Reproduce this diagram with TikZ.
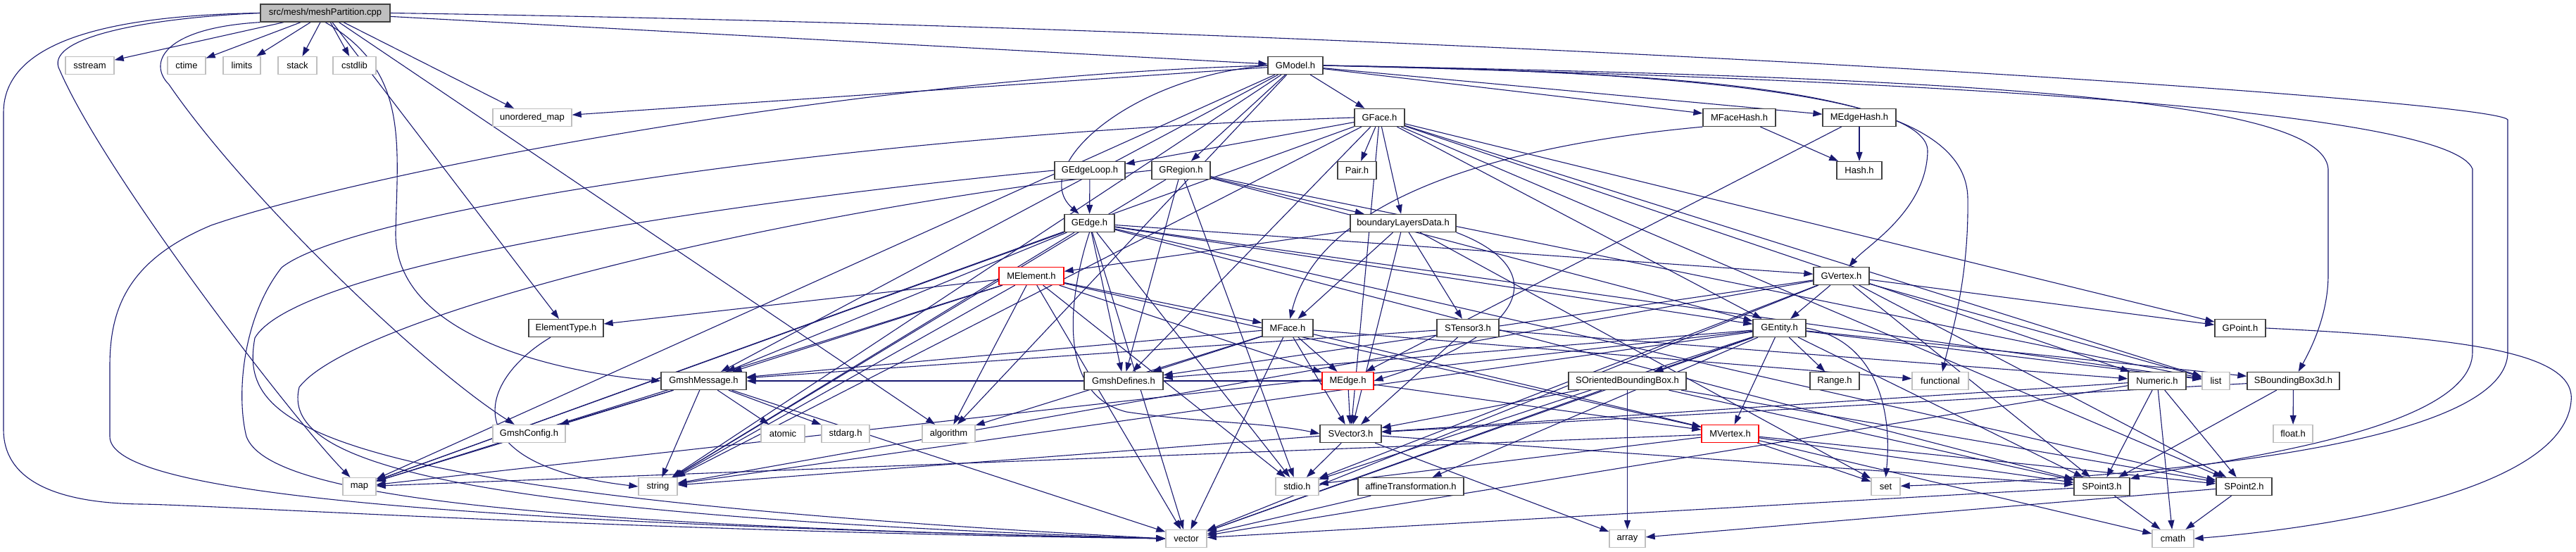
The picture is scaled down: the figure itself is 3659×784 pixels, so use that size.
\documentclass[tikz,border=0pt]{standalone}
\usepackage{fontspec}
\setmainfont{Liberation Sans}
\usetikzlibrary{arrows.meta}
\definecolor{dxnavy}{HTML}{191970}
\definecolor{dxgrey}{HTML}{BFBFBF}
\definecolor{dxborder}{HTML}{404040}
\pgfdeclarelayer{bg}
\pgfsetlayers{bg,main}
\begin{document}
\begin{tikzpicture}[x=1pt,y=-1pt,
  nd/.style={draw=dxborder, fill=white, line width=1.3pt, minimum height=25pt, inner sep=0pt, font=\fontsize{13}{15}\selectfont},
  sys/.style={nd, draw=dxgrey},
  trunc/.style={nd, draw=red},
  edg/.style={draw=dxnavy, line width=1.1pt, -{Triangle[length=13pt,width=9pt]}}]
\useasboundingbox (0,0) rectangle (3659,784);
% row 0
\node[nd, fill=dxgrey, minimum width=184pt] (src) at (462,18.5) {src/mesh/meshPartition.cpp};
% row 1
\node[sys, minimum width=69pt] (sstream) at (127.5,93) {sstream};
\node[sys, minimum width=54pt] (ctime) at (265,93) {ctime};
\node[sys, minimum width=53pt] (limits) at (343.5,93) {limits};
\node[sys, minimum width=55pt] (stack) at (422.5,93) {stack};
\node[sys, minimum width=61pt] (cstdlib) at (503.5,93) {cstdlib};
\node[nd, minimum width=78pt] (GModel) at (1840,93) {GModel.h};
% row 2
\node[sys, minimum width=112pt] (umap) at (756,167) {unordered\_map};
\node[nd, minimum width=71pt] (GFace) at (1959.5,167) {GFace.h};
\node[nd, minimum width=103pt] (MFaceHash) at (2470.5,167) {MFaceHash.h};
\node[nd, minimum width=104pt] (MEdgeHash) at (2641,167) {MEdgeHash.h};
% row 3
\node[nd, minimum width=100pt] (GEdgeLoop) at (1548,242) {GEdgeLoop.h};
\node[nd, minimum width=83pt] (GRegion) at (1677.5,242) {GRegion.h};
\node[nd, minimum width=55pt] (Pair) at (1927.5,242) {Pair.h};
\node[nd, minimum width=64pt] (Hash) at (2641,242) {Hash.h};
% row 4
\node[nd, minimum width=71pt] (GEdge) at (1547.5,317) {GEdge.h};
\node[nd, minimum width=150pt] (bLD) at (1993,317) {boundaryLayersData.h};
% row 5
\node[trunc, minimum width=92pt] (MElement) at (1465,392) {MElement.h};
\node[nd, minimum width=79pt] (GVertex) at (2615.5,392) {GVertex.h};
% row 6
\node[nd, minimum width=106pt] (ElementType) at (804,466) {ElementType.h};
\node[nd, minimum width=72pt] (MFace) at (1829,466) {MFace.h};
\node[nd, minimum width=88pt] (STensor3) at (2085,466) {STensor3.h};
\node[nd, minimum width=75pt] (GEntity) at (2527.5,466) {GEntity.h};
\node[nd, minimum width=72pt] (GPoint) at (3182,466) {GPoint.h};
% row 7
\node[nd, minimum width=121pt] (GmshMessage) at (999.5,541) {GmshMessage.h};
\node[nd, minimum width=112pt] (GmshDefines) at (1596,541) {GmshDefines.h};
\node[trunc, minimum width=73pt] (MEdge) at (1914.5,541) {MEdge.h};
\node[nd, minimum width=167pt] (SOBB) at (2311.5,541) {SOrientedBoundingBox.h};
\node[nd, minimum width=70pt] (Range) at (2606,541) {Range.h};
\node[sys, minimum width=80pt] (functional) at (2756,541) {functional};
\node[nd, minimum width=82pt] (Numeric) at (3064,541) {Numeric.h};
\node[sys, minimum width=39pt] (list) at (3147.5,541) {list};
\node[nd, minimum width=131pt] (SBB) at (3257.5,541) {SBoundingBox3d.h};
% row 8
\node[sys, minimum width=103pt] (GmshConfig) at (751.5,616) {GmshConfig.h};
\node[sys, minimum width=62pt] (atomic) at (1112,616) {atomic};
\node[sys, minimum width=68pt] (stdarg) at (1201,616) {stdarg.h};
\node[sys, minimum width=75pt] (algorithm) at (1347.5,616) {algorithm};
\node[nd, minimum width=87pt] (SVector3) at (1918.5,616) {SVector3.h};
\node[trunc, minimum width=81pt] (MVertex) at (2457.5,616) {MVertex.h};
\node[sys, minimum width=56pt] (float) at (3257,616) {float.h};
% row 9
\node[sys, minimum width=47pt] (map) at (510.5,691) {map};
\node[sys, minimum width=55pt] (string) at (934.5,691) {string};
\node[sys, minimum width=61pt] (stdio) at (1842.5,691) {stdio.h};
\node[nd, minimum width=150pt] (affine) at (2004,691) {affineTransformation.h};
\node[sys, minimum width=41pt] (set) at (2678.5,691) {set};
\node[nd, minimum width=79pt] (SPoint3) at (2985.5,691) {SPoint3.h};
\node[nd, minimum width=79pt] (SPoint2) at (3187.5,691) {SPoint2.h};
% row 10
\node[sys, minimum width=58pt] (vector) at (1685,765) {vector};
\node[sys, minimum width=51pt] (array) at (2311.5,765) {array};
\node[sys, minimum width=59pt] (cmath) at (3086.5,765) {cmath};

\begin{pgfonlayer}{bg}
\foreach \a/\b in {src/sstream, src/ctime, src/limits, src/stack, src/cstdlib, src/umap, src/GModel, src/ElementType, src/algorithm,
GModel/umap, GModel/GFace, GModel/GRegion, GModel/MFaceHash, GModel/MEdgeHash, GModel/algorithm, GModel/map, GModel/string, GModel/GmshMessage,
GFace/Pair, GFace/bLD, GFace/GEdgeLoop, GFace/GEntity, GFace/GPoint, GFace/Numeric, GFace/list, GFace/SPoint2, GFace/SVector3, GFace/GmshDefines, GFace/map, GFace/string,
GEdgeLoop/GEdge,
GRegion/GmshDefines, GRegion/bLD, GRegion/GEntity, GRegion/list, GRegion/string, GRegion/stdio,
GEdge/GVertex, GEdge/GEntity, GEdge/GmshDefines, GEdge/SPoint2, GEdge/SPoint3, GEdge/list, GEdge/stdio, GEdge/string, GEdge/vector, GEdge/map, GEdge/GmshMessage,
bLD/MFace, bLD/STensor3, bLD/SVector3, bLD/MElement, bLD/set,
MElement/ElementType, MElement/GmshMessage, MElement/algorithm, MElement/stdio, MElement/string, MElement/MFace, MElement/MEdge, MElement/MVertex, MElement/vector, MElement/map,
GVertex/GEntity, GVertex/GPoint, GVertex/list, GVertex/SPoint2, GVertex/SPoint3, GVertex/string, GVertex/vector, GVertex/stdio, GVertex/GmshDefines,
GEntity/Range, GEntity/SOBB, GEntity/list, GEntity/SPoint3, GEntity/SBB, GEntity/affine, GEntity/GmshDefines, GEntity/string, GEntity/vector, GEntity/map, GEntity/stdio, GEntity/MVertex,
MFace/MEdge, MFace/SVector3, MFace/GmshMessage, MFace/GmshDefines, MFace/MVertex, MFace/vector, MFace/functional, MFace/algorithm,
MEdge/SVector3, MEdge/MVertex, MEdge/GmshMessage,
STensor3/SVector3, STensor3/Numeric, STensor3/GmshMessage,
MFaceHash/Hash, MEdgeHash/MEdge, MEdgeHash/Hash,
SOBB/SVector3, SOBB/SPoint3, SOBB/SPoint2, SOBB/vector, SOBB/array,
Numeric/SPoint3, Numeric/SPoint2, Numeric/cmath, Numeric/vector, Numeric/SVector3,
SVector3/SPoint3, SVector3/string, SVector3/stdio, SVector3/array,
SBB/float, SBB/SPoint3, SBB/SVector3,
MVertex/set, MVertex/SPoint3, MVertex/SPoint2, MVertex/cmath, MVertex/stdio, MVertex/map,
SPoint3/cmath, SPoint3/vector, SPoint2/cmath, SPoint2/array,
affine/vector,
GmshMessage/GmshConfig, GmshMessage/atomic, GmshMessage/stdarg, GmshMessage/string, GmshMessage/map, GmshMessage/vector}
  \draw[edg] (\a) -- (\b);
% curved routes
\draw[edg] (src.west) .. controls (150,22) and (5,60) .. (5,160) -- (5,610) .. controls (5,700) and (120,715) .. (200,716) .. controls (300,717) and (900,755) .. (vector.west);
\draw[edg] (GModel.west) .. controls (1200,110) and (500,250) .. (300,320) .. controls (180,370) and (156,440) .. (156,520) -- (156,620) .. controls (156,690) and (500,740) .. (vector.west);
\draw[edg] (GFace.west) .. controls (1200,190) and (500,300) .. (400,380) .. controls (345,450) and (335,560) .. (350,620) .. controls (380,700) and (700,745) .. (vector.west);
\draw[edg] (GEdgeLoop.west) .. controls (1000,290) and (420,380) .. (362,480) .. controls (340,600) and (420,700) .. (vector.west);
\draw[edg] (GRegion.west) .. controls (1100,300) and (500,450) .. (425,550) .. controls (400,650) and (600,730) .. (vector.west);
\draw[edg] (src.west) .. controls (200,26) and (60,55) .. (85,100) .. controls (150,250) and (420,600) .. (map);
\draw[edg] (src.south west) .. controls (230,40) and (210,90) .. (240,120) .. controls (350,280) and (600,520) .. (GmshConfig);
\draw[edg] (src.south) .. controls (580,100) and (565,200) .. (562,330) .. controls (560,480) and (800,530) .. (GmshMessage.west);
\draw[edg] (src.east) .. controls (2000,40) and (3540,140) .. (3562,170) -- (3562,500) .. controls (3562,640) and (3000,680) .. (set);
\draw[edg] (GModel.east) .. controls (2800,110) and (3300,140) .. (3307,240) -- (3307,390) .. controls (3307,450) and (3280,500) .. (SBB);
\draw[edg] (GModel.east) .. controls (2800,115) and (3480,160) .. (3512,240) -- (3512,500) .. controls (3512,620) and (3100,660) .. (SPoint3);
\draw[edg] (GModel.east) .. controls (2400,100) and (2740,140) .. (2738,215) .. controls (2736,300) and (2650,350) .. (GVertex);
\draw[edg] (GModel.east) .. controls (2400,105) and (2790,120) .. (2795,280) .. controls (2797,400) and (2770,480) .. (functional);
\draw[edg] (GModel.west) .. controls (1600,110) and (1460,240) .. (GEdge);
\draw[edg] (GPoint.east) .. controls (3500,480) and (3660,500) .. (3652,570) .. controls (3640,700) and (3300,750) .. (cmath.east);
\draw[edg] (ElementType) .. controls (680,540) and (640,660) .. (string.west);
\draw[edg] (MFaceHash.south west) .. controls (2200,200) and (1880,260) .. (MFace);
\draw[edg] (bLD.south east) .. controls (2200,380) and (2180,470) .. (MEdge.east);
\draw[edg] (GEdge.south) .. controls (1518,420) and (1500,560) .. (1600,585) .. controls (1700,600) and (1800,600) .. (SVector3.west);
\draw[edg] (GEntity.east) .. controls (2650,480) and (2690,560) .. (set.north);
\end{pgfonlayer}
\end{tikzpicture}
\end{document}
